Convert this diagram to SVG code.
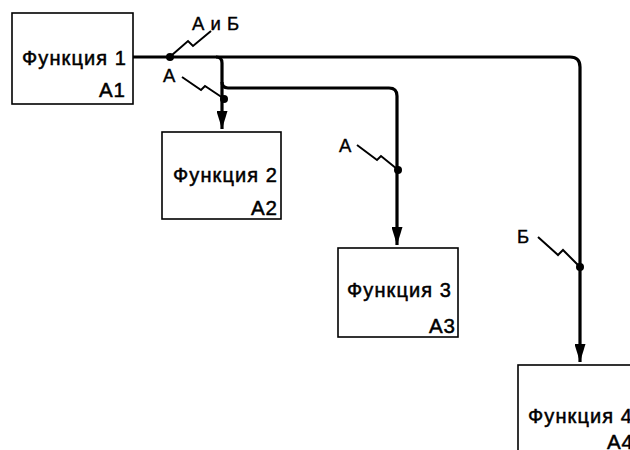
<svg xmlns="http://www.w3.org/2000/svg" width="630" height="450" viewBox="0 0 630 450">
<defs>
<style>
.box{fill:#fff;stroke:#000;stroke-width:1.6}
.t{font-family:"Liberation Sans",Arial,sans-serif;font-size:20px;letter-spacing:1.1px;fill:#000;stroke:#000;stroke-width:0.5}
.n{font-family:"Liberation Sans",Arial,sans-serif;font-size:20.5px;letter-spacing:1px;fill:#000;stroke:#000;stroke-width:0.5;text-anchor:end}
.l{font-family:"Liberation Sans",Arial,sans-serif;font-size:18.5px;letter-spacing:0.5px;fill:#000;stroke:#000;stroke-width:0.4}
.w{fill:none;stroke:#000;stroke-width:3.2;stroke-linejoin:round}
.z{fill:none;stroke:#000;stroke-width:2;stroke-linejoin:miter}
</style>
<marker id="ah" markerWidth="18" markerHeight="11" refX="18" refY="5.5" orient="auto" markerUnits="userSpaceOnUse" viewBox="0 0 18 11">
<path d="M0,0 L18,5.5 L0,11 Z" fill="#000"/>
</marker>
</defs>
<rect width="630" height="450" fill="#fff"/>
<g id="A1">
<rect class="box" x="12" y="13" width="121" height="91"/>
<text class="t" x="22" y="65">Функция 1</text>
<text class="n" x="126" y="97">А1</text>
</g>
<g id="A2">
<rect class="box" x="162" y="132" width="119" height="87"/>
<text class="t" x="173" y="182">Функция 2</text>
<text class="n" x="278" y="215">А2</text>
</g>
<g id="A3">
<rect class="box" x="338" y="248" width="120" height="89"/>
<text class="t" x="347" y="297">Функция 3</text>
<text class="n" x="456" y="333">А3</text>
</g>
<g id="A4">
<rect class="box" x="518" y="365" width="122" height="100"/>
<text class="t" x="528" y="423">Функция 4</text>
<text class="n" x="634" y="449">А4</text>
</g>
<g id="connectors">
<path class="w" d="M133,57 H570 Q580,57 580,67 V362" marker-end="url(#ah)"/>
<path class="w" d="M216,57 Q222,57 222,63 V129" marker-end="url(#ah)"/>
<path class="w" d="M222,82 Q222,88 228,88 H389 Q397,88 397,96 V245" marker-end="url(#ah)"/>
<circle cx="170" cy="57" r="4"/>
<circle cx="224" cy="99" r="4"/>
<circle cx="398" cy="170" r="4"/>
<circle cx="580" cy="267" r="4"/>
<polyline class="z" points="172,55 188,41 193,46 211,31"/>
<polyline class="z" points="182,77 201,90 205,86 223,98"/>
<polyline class="z" points="357,145 377,160 381,156 397,169"/>
<polyline class="z" points="538,237 558,255 563,250 579,266"/>
<text class="l" x="192" y="30">А и Б</text>
<text class="l" x="163" y="82">А</text>
<text class="l" x="339" y="152">А</text>
<text class="l" x="517" y="243">Б</text>
</g>
</svg>
